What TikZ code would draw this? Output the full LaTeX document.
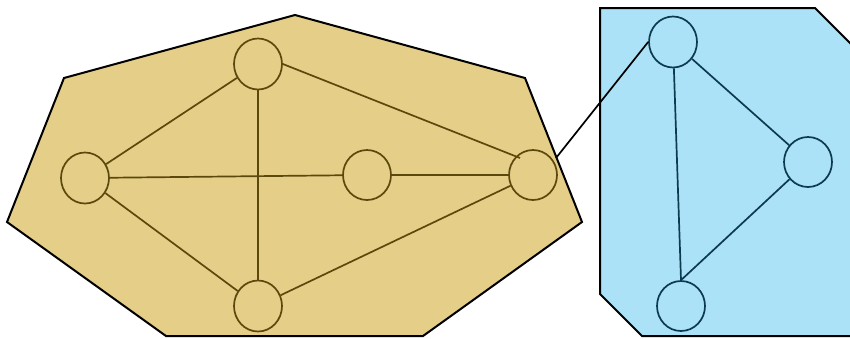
\documentclass[tikz,border=0pt]{standalone}
\usetikzlibrary{shapes.geometric}
\definecolor{tan}{RGB}{229,206,136}
\definecolor{tanline}{RGB}{92,72,12}
\definecolor{skyb}{RGB}{171,226,248}
\definecolor{blueline}{RGB}{12,58,78}
\begin{document}
\begin{tikzpicture}[x=1pt,y=-1pt,
  tnode/.style={ellipse,draw=tanline,line width=1.7pt,minimum width=48pt,minimum height=51pt,inner sep=0pt},
  bnode/.style={ellipse,draw=blueline,line width=1.7pt,minimum width=48pt,minimum height=51pt,inner sep=0pt},
  tedge/.style={draw=tanline,line width=1.7pt},
  bedge/.style={draw=blueline,line width=1.7pt}]
\useasboundingbox (0,0) rectangle (850,338);
\begin{scope}
\clip (0,0) rectangle (850,338);
\draw[fill=tan,line width=2pt,line join=miter] (295,15) -- (525,78) -- (582,222) -- (423,336) -- (166,336) -- (7,222) -- (64,78) -- cycle;
\draw[fill=skyb,line width=2pt] (600,8) -- (815,8) -- (852,45) -- (852,336) -- (642,336) -- (600,294) -- cycle;
\end{scope}
\node[tnode] (t) at (258,64) {};
\node[tnode] (l) at (85,178) {};
\node[tnode,minimum height=50pt] (m) at (367,175) {};
\node[tnode,minimum height=50pt] (r) at (533,175) {};
\node[tnode] (b) at (258,306) {};
\coordinate (rin) at (520,158);
\draw[tedge] (t) -- (l);
\draw[tedge] (t) -- (b);
\draw[tedge] (t.east) -- (rin);
\draw[tedge] (l) -- (m);
\draw[tedge] (l) -- (b);
\draw[tedge] (m) -- (r);
\draw[tedge] (b) -- (r);
\node[bnode] (bt) at (673,42) {};
\node[bnode,minimum height=50pt] (br) at (808,162) {};
\node[bnode,minimum height=50pt] (bb) at (681,306) {};
\draw[bedge] (bt) -- (br);
\draw[bedge] (bt) -- (bb.north);
\draw[bedge] (br) -- (bb.north);
\coordinate (rout) at (556,158);
\draw[line width=1.7pt] (rout) -- (bt.west);
\end{tikzpicture}
\end{document}
